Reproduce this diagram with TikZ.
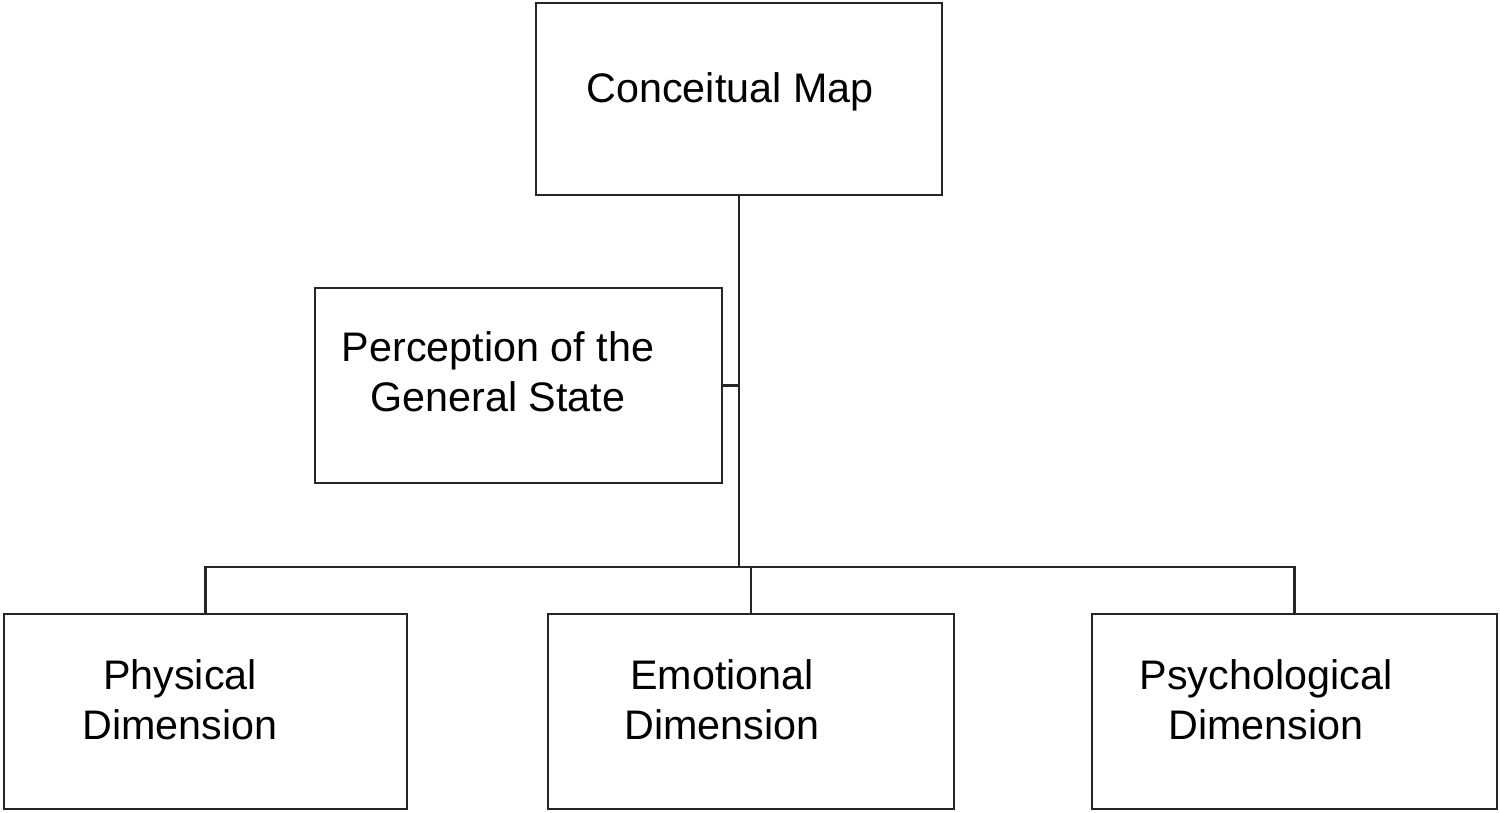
\documentclass[tikz,border=0pt]{standalone}
\usepackage{fontspec}
\setmainfont{Liberation Sans}
\begin{document}
\begin{tikzpicture}[x=0.02cm, y=-0.02cm,
    box/.style={draw=black!85, line width=1.6pt, rectangle, inner sep=0pt},
    txt/.style={anchor=base, align=center, inner sep=0pt,
        font=\fontsize{23.5pt}{28.45pt}\selectfont},
    link/.style={draw=black!85, line width=1.6pt}]
    \useasboundingbox (0,0) rectangle (1500,812);

    % Boxes
    \node[box, minimum width=406*0.02cm, minimum height=192*0.02cm] (map)  at (739,99)    {};
    \node[box, minimum width=407*0.02cm, minimum height=195*0.02cm] (perc) at (518.5,385.5) {};
    \node[box, minimum width=403*0.02cm, minimum height=195*0.02cm] (phys) at (205.5,711.5) {};
    \node[box, minimum width=406*0.02cm, minimum height=195*0.02cm] (emo)  at (751,711.5)   {};
    \node[box, minimum width=405*0.02cm, minimum height=195*0.02cm] (psy)  at (1294.5,711.5) {};

    % Labels (base = last line)
    \node[txt] (mapt)  at (730,102)  {Conceitual Map};
    \node[txt] (perct) at (498,411)  {Perception of the\\General State};
    \node[txt] (physt) at (180,739)  {Physical\\Dimension};
    \node[txt] (emot)  at (722,739)  {Emotional\\Dimension};
    \node[txt] (psyt)  at (1266,739) {Psychological\\Dimension};

    % Connectors
    \coordinate (bar) at (739,567);
    \draw[link] (map.south) -- (bar);
    \draw[link] (perc.east) -- (perc.east -| bar);
    \draw[link] (phys.north) |- (bar) -| (psy.north);
    \draw[link] (emo.north) -- (emo.north |- bar);
\end{tikzpicture}
\end{document}
